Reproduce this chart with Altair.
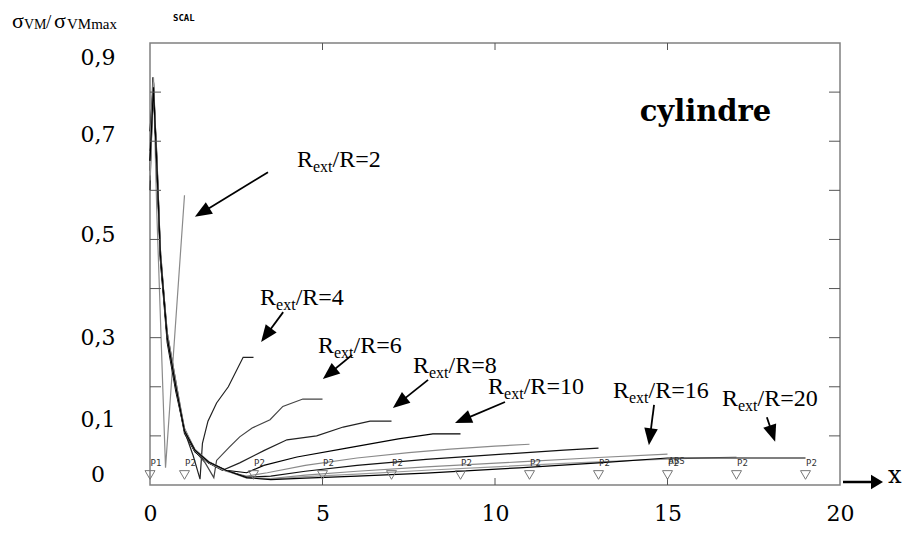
import math
import altair as alt
import pandas as pd

# ---------------- data ----------------
ratios = [2, 4, 6, 8, 10, 12, 14, 16, 18, 20]
curve_x = [
    [0, 0.1, 0.2, 0.45, 1.0],
    [0, 0.08, 0.2, 0.3, 0.5, 0.75, 1.0, 1.25, 1.45, 1.52, 1.68, 1.93, 2.27, 2.7, 3.0],
    [0, 0.1, 0.2, 0.3, 0.5, 0.75, 1.0, 1.3, 1.6, 1.85, 1.93, 2.3, 2.6, 2.96, 3.48, 3.85, 4.43, 5.0],
    [0, 0.1, 0.2, 0.3, 0.5, 0.75, 1.0, 1.3, 1.7, 2.1, 2.6, 3.3, 3.97, 4.83, 5.6, 6.38, 7.0],
    [0, 0.1, 0.2, 0.3, 0.5, 0.75, 1.0, 1.3, 1.7, 2.2, 2.8, 3.3, 4.26, 5.7, 7.2, 8.2, 9.0],
    [0, 0.1, 0.2, 0.3, 0.5, 0.75, 1.0, 1.3, 1.7, 2.2, 2.8, 3.4, 4.5, 6.0, 7.5, 8.7, 10.0, 11.0],
    [0, 0.1, 0.2, 0.3, 0.5, 0.75, 1.0, 1.3, 1.7, 2.2, 2.8, 3.5, 4.5, 6.0, 8.0, 10.7, 12.0, 13.0],
    [0, 0.1, 0.2, 0.3, 0.5, 0.75, 1.0, 1.3, 1.7, 2.2, 2.8, 3.5, 4.5, 6.0, 8.0, 10.7, 13.0, 15.0],
    [0, 0.1, 0.2, 0.3, 0.5, 0.75, 1.0, 1.3, 1.7, 2.2, 2.8, 3.5, 4.5, 6.0, 8.0, 10.0, 12.0, 14.0, 16.0, 17.0],
    [0, 0.1, 0.2, 0.3, 0.5, 0.75, 1.0, 1.3, 1.7, 2.2, 2.8, 3.5, 4.5, 6.0, 8.0, 10.7, 13.0, 15.0, 17.0, 19.0],
]
curve_v = [
    [0.64, 0.82, 0.55, 0.035, 0.59],
    [0.60, 0.83, 0.67, 0.47, 0.31, 0.21, 0.11, 0.06, 0.012, 0.085, 0.13, 0.167, 0.20, 0.26, 0.26],
    [0.68, 0.81, 0.65, 0.46, 0.30, 0.20, 0.115, 0.07, 0.045, 0.015, 0.05, 0.077, 0.098, 0.116, 0.133, 0.16, 0.175, 0.175],
    [0.64, 0.80, 0.66, 0.48, 0.30, 0.20, 0.105, 0.068, 0.045, 0.03, 0.045, 0.07, 0.092, 0.10, 0.118, 0.13, 0.13],
    [0.72, 0.82, 0.64, 0.46, 0.29, 0.19, 0.11, 0.068, 0.045, 0.03, 0.025, 0.04, 0.057, 0.075, 0.094, 0.104, 0.104],
    [0.62, 0.81, 0.66, 0.47, 0.30, 0.20, 0.11, 0.07, 0.046, 0.028, 0.018, 0.025, 0.04, 0.055, 0.066, 0.073, 0.079, 0.083],
    [0.66, 0.82, 0.65, 0.47, 0.30, 0.20, 0.11, 0.072, 0.047, 0.03, 0.016, 0.018, 0.028, 0.04, 0.052, 0.065, 0.071, 0.075],
    [0.70, 0.83, 0.65, 0.47, 0.31, 0.21, 0.115, 0.073, 0.048, 0.03, 0.015, 0.013, 0.02, 0.028, 0.037, 0.047, 0.056, 0.063],
    [0.63, 0.82, 0.66, 0.48, 0.30, 0.20, 0.11, 0.07, 0.046, 0.029, 0.014, 0.012, 0.017, 0.022, 0.030, 0.037, 0.044, 0.050, 0.055, 0.057],
    [0.66, 0.81, 0.65, 0.47, 0.30, 0.20, 0.11, 0.071, 0.047, 0.03, 0.015, 0.011, 0.014, 0.018, 0.024, 0.035, 0.045, 0.055, 0.055, 0.055],
]
curve_color = ["#8a8a8a", "#222222", "#444444", "#222222", "#000000",
               "#8a8a8a", "#111111", "#8a8a8a", "#9a9a9a", "#000000"]

marker_x = [0, 1, 3, 5, 7, 9, 11, 13, 15, 17, 19]
marker_name = ["P1", "P2", "P2", "P2", "P2", "P2", "P2", "P2", "P2", "P2", "P2"]

x_ticks = [5, 10, 15]
y_ticks = [0.1, 0.2, 0.3, 0.4, 0.5, 0.6, 0.7, 0.8]
x_tick_labels = [0, 5, 10, 15, 20]
y_label_text = ["0", "0,1", "0,3", "0,5", "0,7", "0,9"]
y_label_at = [0.020, 0.132, 0.299, 0.509, 0.713, 0.869]

ann_ratio = [2, 4, 6, 8, 10, 16, 20]
ann_label_x = [4.26, 3.19, 4.87, 7.62, 9.80, 13.42, 16.58]
ann_label_v = [0.648, 0.367, 0.269, 0.228, 0.185, 0.177, 0.161]
ann_from_x = [3.42, 3.86, 5.86, 8.06, 10.29, 14.61, 17.88]
ann_from_v = [0.637, 0.352, 0.265, 0.214, 0.169, 0.163, 0.138]
ann_to_x = [1.30, 3.22, 5.01, 7.04, 8.84, 14.46, 18.12]
ann_to_v = [0.546, 0.291, 0.216, 0.157, 0.126, 0.081, 0.088]

# ---------------- layout ----------------
W, H = 690, 442
XMAX, YMAX = 20, 0.9
PX_X, PX_Y = W / XMAX, H / YMAX
SERIF = "DejaVu Serif, Liberation Serif, serif"
TIMES = "Liberation Serif, serif"
MONO = "DejaVu Sans Mono, monospace"

xs = alt.Scale(domain=[0, XMAX], nice=False, zero=False)
ys = alt.Scale(domain=[0, YMAX], nice=False, zero=False)
xaxis = alt.Axis(values=x_tick_labels, title=None, ticks=False, domain=False, grid=False,
                 labelFont=SERIF, labelFontSize=22, labelColor="black", labelPadding=18,
                 format="d", labelFlush=False, labelOverlap=False)


def X(f):
    return alt.X(f, scale=xs, axis=xaxis)


def Y(f):
    return alt.Y(f, scale=ys, axis=None)


rows = []
for r, cx, cv, col in zip(ratios, curve_x, curve_v, curve_color):
    for i, (a, b) in enumerate(zip(cx, cv)):
        rows.append({"ratio": r, "i": i, "x": a, "v": b, "col": col})
curves = pd.DataFrame(rows)

lines = alt.Chart(curves).mark_line(strokeWidth=1.2).encode(
    x=X("x:Q"), y=Y("v:Q"), detail="ratio:N", color=alt.Color("col:N", scale=None))

markers_df = pd.DataFrame({"x": marker_x, "name": marker_name, "v": [0.0204] * len(marker_x),
                           "lv": [0.039] * len(marker_x)})
tri = alt.Chart(markers_df).mark_point(shape="triangle-down", filled=False, size=100,
                                       color="#777777", strokeWidth=1, opacity=1).encode(
    x=X("x:Q"), y=Y("v:Q"))
tri_lbl = alt.Chart(markers_df).mark_text(font=MONO, fontSize=9, dx=6,
                                          color="#333333", baseline="alphabetic").encode(
    x=X("x:Q"), y=Y("lv:Q"), text="name:N")
abs_lbl = alt.Chart(pd.DataFrame({"x": [15], "v": [0.043], "t": ["ABS"]})).mark_text(
    font=MONO, fontSize=9, dx=1, align="left", color="#333333",
    baseline="alphabetic").encode(x=X("x:Q"), y=Y("v:Q"), text="t:N")

# inner ticks of the frame
yt = pd.DataFrame({"v": y_ticks})
xt = pd.DataFrame({"x": x_ticks})
tick_c = "#555555"
lt = alt.Chart(yt).mark_rule(color=tick_c).encode(y=Y("v:Q"), x=alt.value(0), x2=alt.value(11))
rt = alt.Chart(yt).mark_rule(color=tick_c).encode(y=Y("v:Q"), x=alt.value(W - 11), x2=alt.value(W))
bt = alt.Chart(xt).mark_rule(color=tick_c).encode(x=X("x:Q"), y=alt.value(H), y2=alt.value(H - 7))
tt = alt.Chart(xt).mark_rule(color=tick_c).encode(x=X("x:Q"), y=alt.value(0), y2=alt.value(7))

# y tick labels as printed
ylab = alt.Chart(pd.DataFrame({"v": y_label_at, "t": y_label_text})).mark_text(
    font=SERIF, fontSize=22, align="center", baseline="middle", color="black").encode(
    x=alt.value(-52), y=Y("v:Q"), text="t:N")

# annotation arrows
arows = []
for r, lx, lv, x0, v0, x1, v1 in zip(ann_ratio, ann_label_x, ann_label_v, ann_from_x,
                                      ann_from_v, ann_to_x, ann_to_v):
    dx = (x1 - x0) * PX_X
    dy = -(v1 - v0) * PX_Y
    L = math.hypot(dx, dy)
    ux, uy = dx / L, dy / L
    back = 8.5
    hx = x1 - back * ux / PX_X
    hv = v1 + back * uy / PX_Y
    ang = math.degrees(math.atan2(ux, -uy)) % 360
    arows.append({"r": r, "lx": lx, "lv": lv, "x0": x0, "v0": v0, "hx": hx, "hv": hv,
                  "ang": ang, "tail": "/R=%d" % r, "R": "R", "ext": "ext"})
ann = pd.DataFrame(arows)

shaft = alt.Chart(ann).mark_rule(color="black", strokeWidth=1.8).encode(
    x=X("x0:Q"), y=Y("v0:Q"), x2="hx:Q", y2="hv:Q")
head = alt.Chart(ann).mark_point(shape="M0,-1L-0.8,1L0.8,1Z", filled=True, size=289,
                                 color="black", opacity=1).encode(
    x=X("hx:Q"), y=Y("hv:Q"), angle=alt.Angle("ang:Q", scale=None))

lab_R = alt.Chart(ann).mark_text(font=TIMES, fontSize=24, align="left", baseline="alphabetic",
                                 color="black").encode(x=X("lx:Q"), y=Y("lv:Q"), text="R:N")
lab_ext = alt.Chart(ann).mark_text(font=TIMES, fontSize=16, align="left", baseline="alphabetic",
                                   dx=16, dy=5, color="black").encode(
    x=X("lx:Q"), y=Y("lv:Q"), text="ext:N")
lab_tail = alt.Chart(ann).mark_text(font=TIMES, fontSize=24, align="left", baseline="alphabetic",
                                    dx=35.6, color="black").encode(
    x=X("lx:Q"), y=Y("lv:Q"), text="tail:N")

cyl = alt.Chart(pd.DataFrame({"x": [16.1], "v": [0.741], "t": ["cylindre"]})).mark_text(
    font=SERIF, fontSize=29, fontWeight="bold", align="center", baseline="alphabetic",
    color="black").encode(x=X("x:Q"), y=Y("v:Q"), text="t:N")


# y title sigma_VM / sigma_VMmax, and the SCAL tag (placed in the padding above the frame)
def seg(text, xpos, ypos, size, font=TIMES, weight="normal"):
    return alt.Chart(pd.DataFrame({"t": [text]})).mark_text(
        font=font, fontSize=size, fontWeight=weight, align="left", baseline="alphabetic",
        color="black").encode(x=alt.value(xpos), y=alt.value(ypos), text="t:N")


ttl = [seg("σ", -138, -15, 22), seg("VM", -126, -14, 14), seg("/", -104, -15, 19),
       seg("σ", -96, -15, 22), seg("VMmax", -83, -14, 15),
       seg("SCAL", 23, -22, 9, font=MONO, weight="bold")]

# x axis arrow (right of the frame)
xa = pd.DataFrame({"t": ["x"]})
xarrow = alt.Chart(xa).mark_rule(color="black", strokeWidth=2.5).encode(
    x=alt.value(693), x2=alt.value(726), y=alt.value(H - 3))
xhead = alt.Chart(xa).mark_point(
    shape="M1,0L-1,-1.2L-1,1.2Z", filled=True, size=144, color="black", opacity=1).encode(
    x=alt.value(727), y=alt.value(H - 3))
xlab = seg("x", 738, H - 2, 24, font=SERIF)

chart = alt.layer(
    lines, lt, rt, bt, tt, tri, tri_lbl, abs_lbl, ylab, shaft, head, lab_R, lab_ext, lab_tail,
    cyl, *ttl, xarrow, xhead, xlab
).properties(
    width=W, height=H, autosize=alt.AutoSizeParams(type="none"),
    padding={"left": 142, "top": 35, "right": 65, "bottom": 40},
    background="white",
).configure_view(stroke="#808080", strokeWidth=1.5)

chart.save("out.html", embed_options={"renderer": "svg", "actions": False})
